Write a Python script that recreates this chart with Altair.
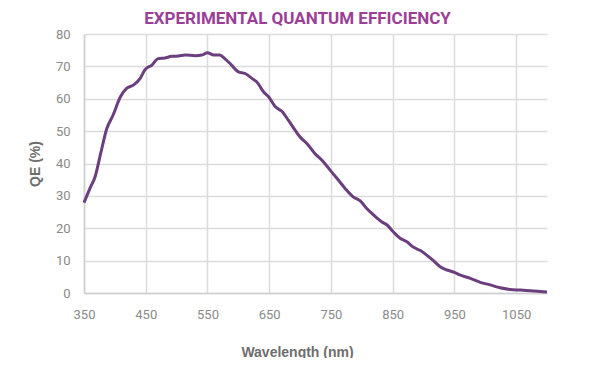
import altair as alt
import pandas as pd

wavelength = [350, 360, 368, 377, 387, 397, 409, 419, 430, 441, 449, 460, 470, 481,
              492, 503, 514, 530, 541, 550, 560, 570, 578, 589, 600, 611, 622, 630,
              641, 649, 660, 670, 681, 692, 700, 711, 724, 738, 751, 762, 773, 786,
              797, 808, 819, 832, 841, 851, 862, 873, 884, 895, 905, 916, 927, 938,
              951, 959, 976, 992, 1008, 1024, 1040, 1057, 1073, 1089, 1100]
qe = [27.9, 32.5, 35.9, 43.1, 50.8, 54.9, 60.6, 63.2, 64.2, 66.3, 69.0, 70.4, 72.4, 72.6,
      73.1, 73.2, 73.5, 73.3, 73.5, 74.2, 73.5, 73.5, 72.4, 70.4, 68.3, 67.8, 66.3, 65.2,
      62.1, 60.6, 57.5, 56.2, 53.4, 50.3, 48.2, 46.2, 43.1, 40.5, 37.4, 34.9, 32.3, 29.7,
      28.5, 26.1, 24.1, 22.0, 21.0, 18.9, 16.9, 15.8, 14.1, 13.1, 11.7, 10.0, 8.1, 7.1,
      6.3, 5.6, 4.5, 3.3, 2.5, 1.6, 1.1, 0.9, 0.7, 0.5, 0.3]
x_ticks = [350, 450, 550, 650, 750, 850, 950, 1050]
y_ticks = [0, 10, 20, 30, 40, 50, 60, 70, 80]

df = pd.DataFrame({"wavelength": wavelength, "qe": qe})

chart = alt.Chart(df).mark_line(color="#6b3e7e", strokeWidth=3, interpolate="monotone").encode(
    x=alt.X("wavelength:Q",
            scale=alt.Scale(domain=[350, 1100], nice=False, zero=False),
            axis=alt.Axis(values=x_ticks, format="d", labelFlush=False,
                          title="Wavelength (nm)", labelPadding=15,
                          titleX=213, titleY=63, titleBaseline="alphabetic", titleAlign="center")),
    y=alt.Y("qe:Q",
            scale=alt.Scale(domain=[0, 80], nice=False),
            axis=alt.Axis(values=y_ticks, title="QE (%)", labelPadding=14, labelFlush=False,
                          titleX=-49, titleY=129.5, titleAngle=-90,
                          titleBaseline="middle", titleAlign="center")),
).properties(
    width=463,
    height=259,
    autosize=alt.AutoSizeParams(type="none"),
    padding={"left": 76, "top": 26, "right": 45, "bottom": 65},
    title=alt.TitleParams("EXPERIMENTAL QUANTUM EFFICIENCY", fontSize=17, font="Roboto",
                          fontWeight="bold", color="#9b3f96", anchor="middle", dx=-18, offset=0),
).configure_view(stroke=None).configure_axis(
    grid=True, gridColor="#dcdcdc", gridWidth=1.5,
    domainColor="#d0d0d0", domainWidth=1.5, ticks=False,
    labelFont="Roboto", labelFontSize=13, labelColor="#8a8a8a",
    titleFont="Liberation Sans", titleFontSize=14, titleFontWeight="bold", titleColor="#6e6e6e",
)

chart.save("out.html", embed_options={"renderer": "svg", "actions": False})
